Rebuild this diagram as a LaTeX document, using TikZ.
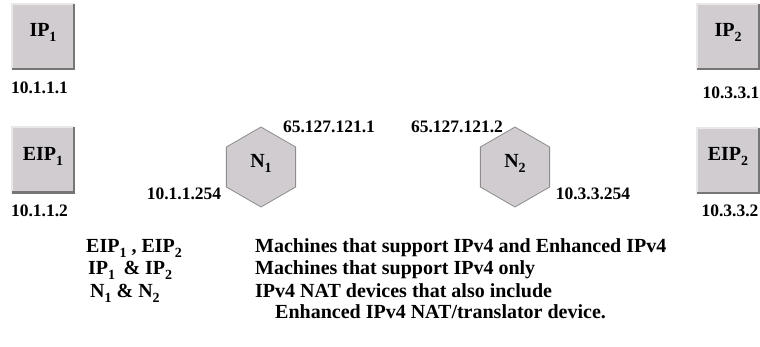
\documentclass[tikz,border=0pt]{standalone}
\usepackage{fontspec}
\setmainfont{Liberation Serif}
\usetikzlibrary{shapes.geometric}
\definecolor{boxfill}{HTML}{D0CCD0}
\definecolor{boxlight}{HTML}{E8E8E8}
\definecolor{boxdark}{HTML}{767676}
\definecolor{hexedge}{HTML}{8C8C8C}
\newcommand\lo[1]{\raisebox{-5pt}{\fontsize{14}{14}\selectfont #1}}
\begin{document}
\begin{tikzpicture}[x=1pt,y=1pt,
  hostbox/.style={minimum width=62pt, minimum height=65pt, inner sep=0pt, fill=boxfill},
  boxtxt/.style={font=\fontsize{20}{22}\selectfont\bfseries, inner sep=0pt},
  addr/.style={font=\fontsize{17.5}{20}\selectfont\bfseries, inner sep=0pt},
  nat/.style={regular polygon, regular polygon sides=6, shape border rotate=30,
    minimum size=80pt, inner sep=0pt, fill=boxfill, draw=hexedge, line width=0.8pt},
  legend/.style={font=\fontsize{20}{22}\selectfont\bfseries, inner sep=0pt, anchor=base west}]
\useasboundingbox (0,0) rectangle (760,346);

% host boxes
\node[hostbox] (ip1) at (43,309.5) {};
\node[hostbox] (eip1) at (43,186) {};
\node[hostbox] (ip2) at (728,309.5) {};
\node[hostbox] (eip2) at (728,185.5) {};
\foreach \b in {ip1,eip1,ip2,eip2} {
  \draw[boxlight, line width=2pt] (\b.south west) -- (\b.north west) -- (\b.north east);
  \draw[boxdark, line width=2.5pt] (\b.north east) -- (\b.south east) -- (\b.south west);
}
\node[boxtxt, yshift=4pt] (ip1t) at (ip1) {IP\lo{1}};
\node[boxtxt, yshift=4pt] (eip1t) at (eip1) {EIP\lo{1}};
\node[boxtxt, yshift=4pt] (ip2t) at (ip2) {IP\lo{2}};
\node[boxtxt, yshift=4pt] (eip2t) at (eip2) {EIP\lo{2}};

\node[addr] (a1) at (39.5,258) {10.1.1.1};
\node[addr] (a2) at (39.5,135) {10.1.1.2};
\node[addr] (a3) at (731,253) {10.3.3.1};
\node[addr] (a4) at (730,135) {10.3.3.2};

% NAT devices
\node[nat] (n1) at (261,179) {};
\node[nat] (n2) at (515,179) {};
\node[boxtxt, yshift=4pt] (n1t) at (n1) {N\lo{1}};
\node[boxtxt, yshift=4pt] (n2t) at (n2) {N\lo{2}};

\node[addr] (n1o) at (329,219) {65.127.121.1};
\node[addr] (n1i) at (184,152) {10.1.1.254};
\node[addr] (n2o) at (457,219) {65.127.121.2};
\node[addr] (n2i) at (593,152) {10.3.3.254};

% legend
\node[legend] (l1a) at (86,94) {EIP\lo{1} , EIP\lo{2}};
\node[legend] (l1b) at (255,94) {Machines that support IPv4 and Enhanced IPv4};
\node[legend] (l2a) at (88,72) {IP\lo{1} \,\& IP\lo{2}};
\node[legend] (l2b) at (255,72) {Machines that support IPv4 only};
\node[legend] (l3a) at (90,49) {N\lo{1} \& N\lo{2}};
\node[legend] (l3b) at (255,49) {IPv4 NAT devices that also include};
\node[legend] (l4b) at (275,28) {Enhanced IPv4 NAT/translator device.};
\end{tikzpicture}
\end{document}
